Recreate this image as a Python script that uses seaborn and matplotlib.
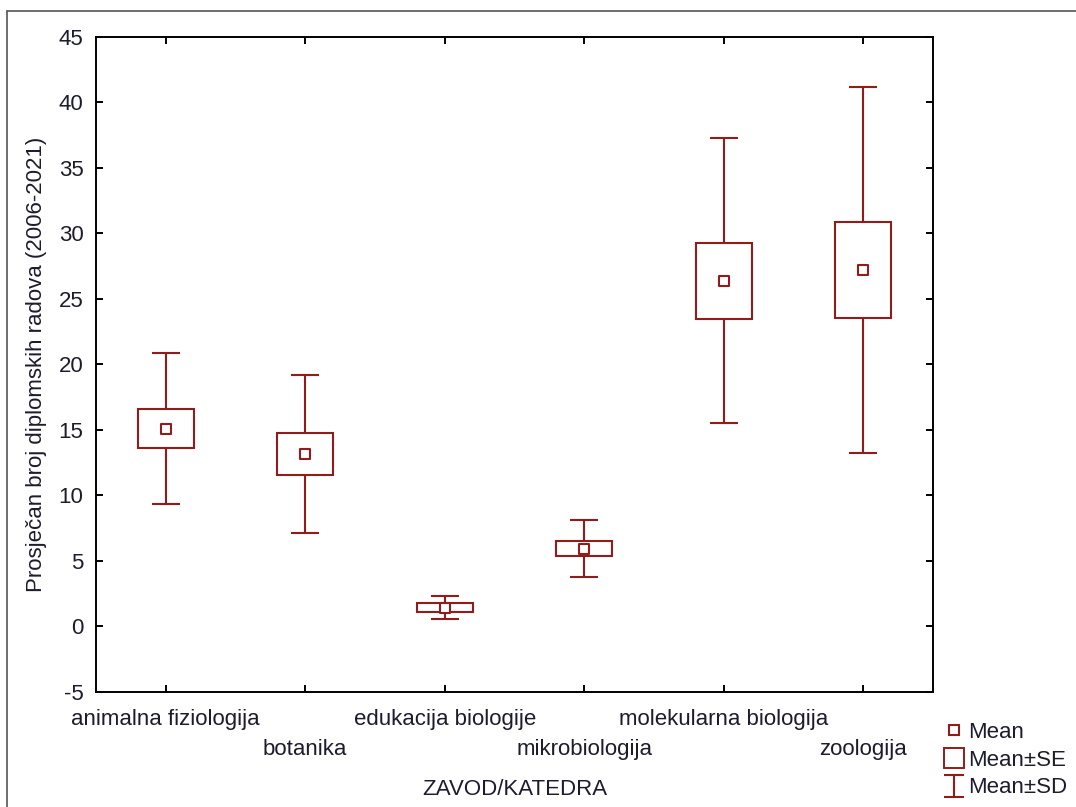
import numpy as np
import pandas as pd
import seaborn as sns
import matplotlib.pyplot as plt
from matplotlib.lines import Line2D
from matplotlib.path import Path

zavodi = ["animalna fiziologija", "botanika", "edukacija biologije",
          "mikrobiologija", "molekularna biologija", "zoologija"]
mean = [15.1, 13.2, 1.45, 5.95, 26.4, 27.2]
se = [1.5, 1.6, 0.35, 0.57, 2.9, 3.65]
sd = [5.75, 6.03, 0.9, 2.17, 10.9, 13.95]

boja = "#921c1c"
tekst = "#1c1c2c"

sns.set_style("ticks")
plt.rcParams["font.family"] = ["Liberation Sans", "DejaVu Sans"]
plt.rcParams["axes.unicode_minus"] = False
plt.rcParams["text.color"] = tekst
plt.rcParams["axes.labelcolor"] = tekst
plt.rcParams["xtick.color"] = "black"
plt.rcParams["ytick.color"] = "black"
plt.rcParams["xtick.labelcolor"] = tekst
plt.rcParams["ytick.labelcolor"] = tekst

df = pd.DataFrame({"zavod": zavodi, "mean": mean, "se": se, "sd": sd})

fig = plt.figure(figsize=(10.76, 8.07), dpi=100)
ax = fig.add_axes([0.0892, 0.1425, 0.7779, 0.8117])

# Mean±SD
ax.errorbar(df["zavod"], df["mean"], yerr=df["sd"], fmt="none", ecolor=boja,
            elinewidth=1.5, capsize=10, capthick=1.5, zorder=1)
# Mean±SE kutije
ax.bar(df["zavod"], 2 * df["se"], bottom=df["mean"] - df["se"], width=0.4,
       color="white", edgecolor=boja, linewidth=1.5, zorder=2)
# Mean
sns.scatterplot(data=df, x="zavod", y="mean", marker="s", s=50, color="white",
                edgecolor=boja, linewidth=1.5, zorder=3, ax=ax)

ax.set_xlim(-0.5, 5.5)
ax.set_ylim(-5, 45)
ax.set_yticks(np.arange(-5, 46, 5))
# parni nazivi u prvom redu, neparni u drugom (minor ticks)
poz = np.arange(len(zavodi))
ax.set_xticks(poz[::2])
ax.set_xticklabels(zavodi[::2])
ax.set_xticks(poz[1::2], minor=True)
ax.set_xticklabels(zavodi[1::2], minor=True)
ax.tick_params(which="both", direction="in", top=True, right=True, length=5, width=1.4,
               labelsize=16)
ax.tick_params(axis="x", which="major", pad=12)
ax.tick_params(axis="x", which="minor", pad=34)
ax.tick_params(axis="y", pad=9)
for s in ax.spines.values():
    s.set_linewidth(1.4)
    s.set_color("black")

ax.set_xlabel("ZAVOD/KATEDRA", fontsize=16)
ax.set_ylabel("Prosječan broj diplomskih radova (2006-2021)", fontsize=16)
ax.xaxis.set_label_coords(0.5, -0.133)
ax.yaxis.set_label_coords(-0.058, 0.5)

# legenda
i_path = Path([(-0.45, 0.5), (0.45, 0.5), (0, 0.5), (0, -0.5), (-0.45, -0.5), (0.45, -0.5)],
              [Path.MOVETO, Path.LINETO, Path.MOVETO, Path.LINETO, Path.MOVETO, Path.LINETO])
handles = [
    Line2D([], [], ls="none", marker="s", ms=6.5, mfc="white", mec=boja, mew=1.5),
    Line2D([], [], ls="none", marker="s", ms=15, mfc="white", mec=boja, mew=1.4),
    Line2D([], [], ls="none", marker=i_path, ms=16, mfc="none", mec=boja, mew=1.5),
]
fig.legend(handles, ["Mean", "Mean±SE", "Mean±SD"], loc="upper left",
           bbox_to_anchor=(0.866, 0.119), frameon=False, fontsize=16,
           handlelength=1.0, handletextpad=0.15, labelspacing=0.3, borderpad=0)

# okvir slike
fig.add_artist(Line2D([0.0065, 1], [0.9864, 0.9864], transform=fig.transFigure,
                      color="#555555", lw=1.2))
fig.add_artist(Line2D([0.0065, 0.0065], [0, 0.9864], transform=fig.transFigure,
                      color="#555555", lw=1.2))

fig.savefig("out.png", dpi=100)
